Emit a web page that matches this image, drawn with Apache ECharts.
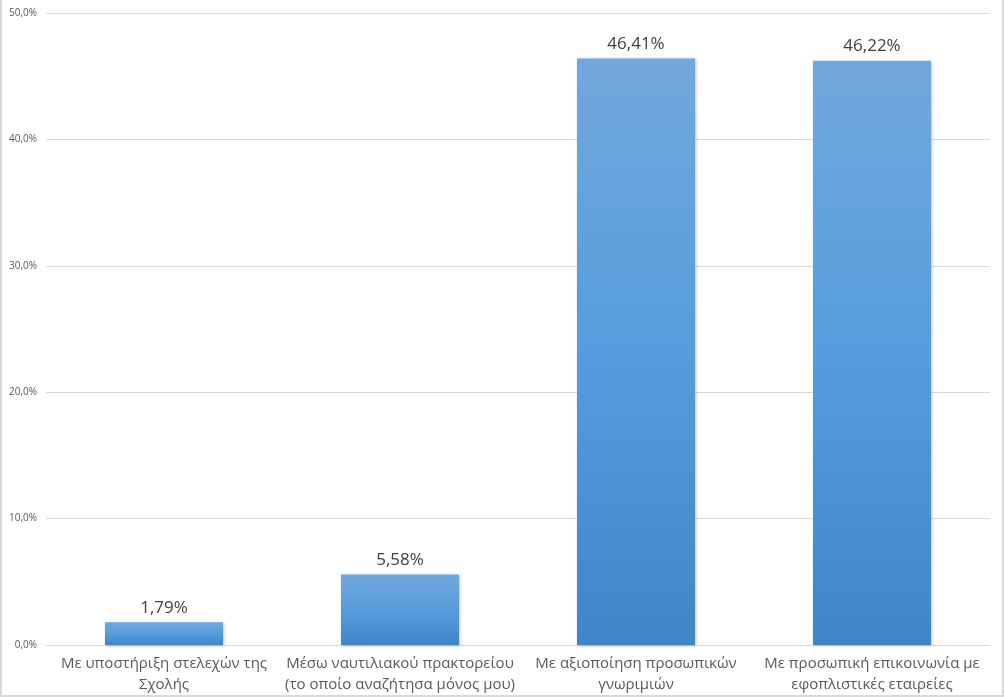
<!DOCTYPE html>
<html>
<head>
<meta charset="utf-8">
<script src="https://cdn.jsdelivr.net/npm/echarts@6/dist/echarts.min.js"></script>
<style>
  html, body { margin: 0; padding: 0; background: #fff; }
  #chart {
    width: 1004px;
    height: 697px;
    box-sizing: border-box;
    border-left: 2px solid #d9d9d9;
    border-right: 2px solid #d9d9d9;
    border-bottom: 2px solid #d9d9d9;
  }
</style>
</head>
<body>
<div id="chart"></div>
<script>
var categories = [
  'Με υποστήριξη στελεχών της\nΣχολής',
  'Μέσω ναυτιλιακού πρακτορείου\n(το οποίο αναζήτησα μόνος μου)',
  'Με αξιοποίηση προσωπικών\nγνωριμιών',
  'Με προσωπική επικοινωνία με\nεφοπλιστικές εταιρείες'
]
var values = [1.79, 5.58, 46.41, 46.22]
var yTicks = [0, 10, 20, 30, 40, 50]

var chart = echarts.init(document.getElementById('chart'))

var option = {
  backgroundColor: '#fff',
  textStyle: { fontFamily: 'Open Sans' },
  grid: {
    left: 44,
    right: 12,
    top: 13,
    bottom: 50
  },
  xAxis: {
    type: 'category',
    data: categories,
    axisLine: { show: true, lineStyle: { color: '#d9d9d9' } },
    axisTick: { show: false },
    axisLabel: {
      interval: 0,
      color: '#595959',
      fontSize: 15,
      lineHeight: 21,
      margin: 8
    }
  },
  yAxis: {
    type: 'value',
    min: yTicks[0],
    max: yTicks[yTicks.length - 1],
    interval: 10,
    axisLine: { show: false },
    axisTick: { show: false },
    splitLine: { lineStyle: { color: '#d9d9d9' } },
    axisLabel: {
      color: '#595959',
      fontSize: 10,
      margin: 9,
      formatter: function (v) { return v.toFixed(1).replace('.', ',') + '%' }
    }
  },
  series: [
    {
      type: 'bar',
      data: values,
      barWidth: '50%',
      itemStyle: {
        color: new echarts.graphic.LinearGradient(0, 0, 0, 1, [
          { offset: 0, color: '#72a8dc' },
          { offset: 0.5, color: '#559ddd' },
          { offset: 1, color: '#3f86c6' }
        ]),
        shadowColor: 'rgba(0,0,0,0.25)',
        shadowBlur: 3,
        shadowOffsetX: 1,
        shadowOffsetY: 1
      },
      label: {
        show: true,
        position: 'top',
        distance: 6,
        color: '#404040',
        fontSize: 17,
        formatter: function (p) { return p.value.toFixed(2).replace('.', ',') + '%' }
      }
    }
  ]
}

chart.setOption(option)
</script>
</body>
</html>
